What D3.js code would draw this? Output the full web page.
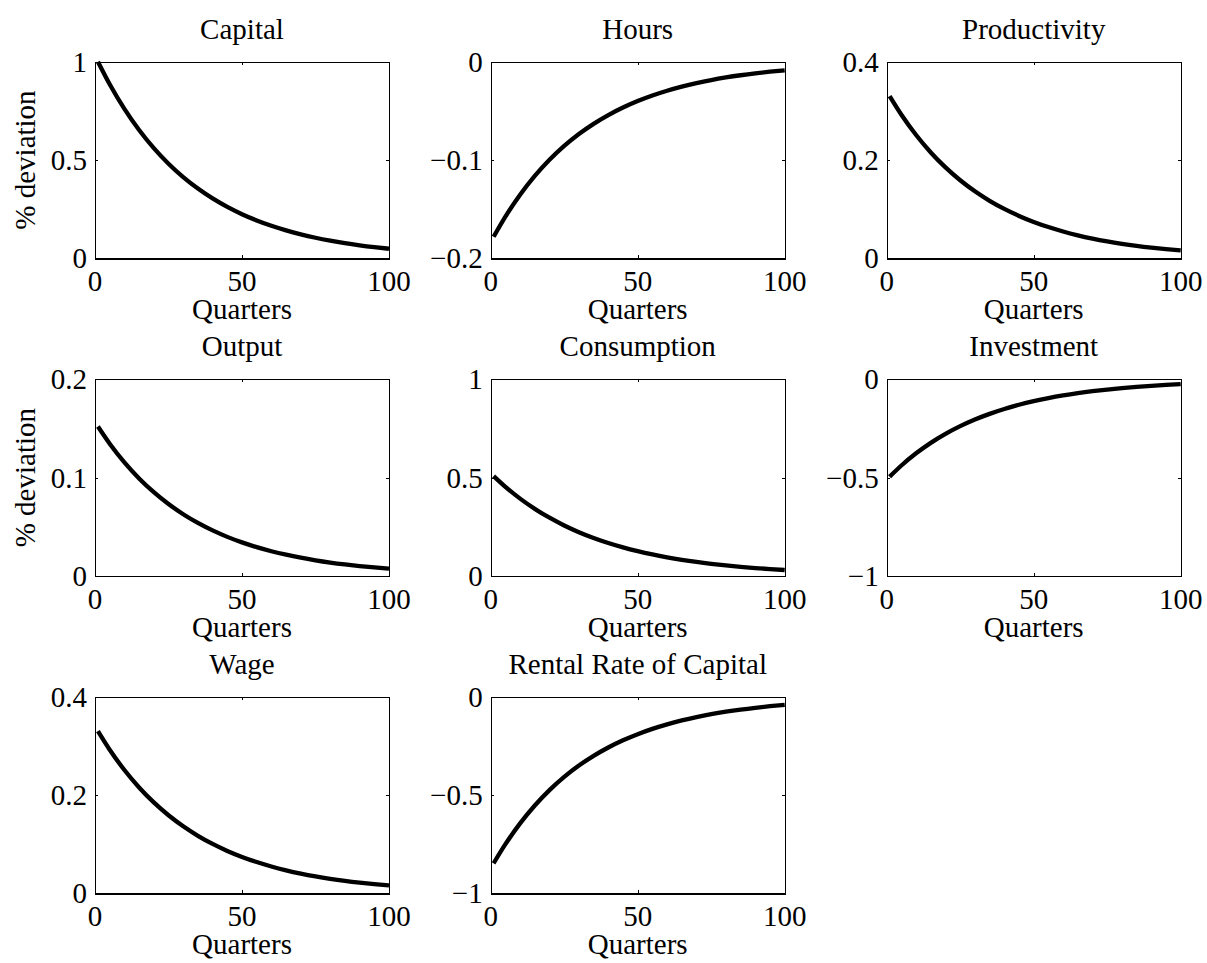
<!DOCTYPE html>
<html>
<head>
<meta charset="utf-8">
<script src="https://cdn.jsdelivr.net/npm/d3@7"></script>
<style>
  html, body { margin: 0; padding: 0; background: #fff; }
  svg { display: block; }
  text { font-family: "Liberation Serif", "Times New Roman", serif; fill: #000; }
</style>
</head>
<body>
<svg id="fig" width="1207" height="963"></svg>
<script>
// Impulse responses, sampled every five quarters
const quarters = [1, 5, 10, 15, 20, 25, 30, 35, 40, 45, 50, 55, 60, 65, 70, 75, 80, 85, 90, 95, 100];

const capital      = [1.0000, 0.8853, 0.7602, 0.6528, 0.5606, 0.4814, 0.4134, 0.3550, 0.3049, 0.2618, 0.2248, 0.1931, 0.1658, 0.1424, 0.1223, 0.1050, 0.0902, 0.0774, 0.0665, 0.0571, 0.0490];
const hours        = [-0.17800, -0.15758, -0.13532, -0.11620, -0.09979, -0.08569, -0.07359, -0.06319, -0.05427, -0.04660, -0.04002, -0.03436, -0.02951, -0.02534, -0.02176, -0.01869, -0.01605, -0.01378, -0.01183, -0.01016, -0.00873];
const productivity = [0.33000, 0.29215, 0.25087, 0.21543, 0.18500, 0.15887, 0.13642, 0.11715, 0.10060, 0.08639, 0.07419, 0.06371, 0.05471, 0.04698, 0.04034, 0.03464, 0.02975, 0.02555, 0.02194, 0.01884, 0.01618];
const output       = [0.15200, 0.13456, 0.11555, 0.09923, 0.08521, 0.07317, 0.06284, 0.05396, 0.04634, 0.03979, 0.03417, 0.02934, 0.02520, 0.02164, 0.01858, 0.01596, 0.01370, 0.01177, 0.01010, 0.00868, 0.00745];
const consumption  = [0.50800, 0.45345, 0.39342, 0.34134, 0.29616, 0.25695, 0.22294, 0.19343, 0.16782, 0.14561, 0.12633, 0.10961, 0.09510, 0.08251, 0.07159, 0.06211, 0.05389, 0.04676, 0.04057, 0.03520, 0.03054];
const investment   = [-0.49500, -0.43822, -0.37631, -0.32315, -0.27750, -0.23830, -0.20463, -0.17573, -0.15091, -0.12959, -0.11128, -0.09556, -0.08206, -0.07047, -0.06051, -0.05197, -0.04462, -0.03832, -0.03291, -0.02825, -0.02426];
const wage         = [0.33000, 0.29215, 0.25087, 0.21543, 0.18500, 0.15887, 0.13642, 0.11715, 0.10060, 0.08639, 0.07419, 0.06371, 0.05471, 0.04698, 0.04034, 0.03464, 0.02975, 0.02555, 0.02194, 0.01884, 0.01618];
const rentalRate   = [-0.84700, -0.74984, -0.64391, -0.55295, -0.47484, -0.40775, -0.35015, -0.30069, -0.25822, -0.22174, -0.19041, -0.16351, -0.14042, -0.12058, -0.10355, -0.08892, -0.07636, -0.06557, -0.05631, -0.04835, -0.04152];

const titles = ["Capital", "Hours", "Productivity", "Output", "Consumption", "Investment", "Wage", "Rental Rate of Capital"];
const seriesList = [capital, hours, productivity, output, consumption, investment, wage, rentalRate];

// y-axis ticks for each panel (first and last give the axis limits)
const yTicks = [
  [0, 0.5, 1],
  [-0.2, -0.1, 0],
  [0, 0.2, 0.4],
  [0, 0.1, 0.2],
  [0, 0.5, 1],
  [-1, -0.5, 0],
  [0, 0.2, 0.4],
  [-1, -0.5, 0]
];
const xTicks = [0, 50, 100];
const yLabelPanels = [0, 3];
const xLabelText = "Quarters";
const yLabelText = "% deviation";

// Grid geometry
const colLeft = [95, 490.7, 886.7];
const rowTop = [61.7, 379.3, 696.7];
const plotW = 294;
const plotH = 196.7;
const fontSize = 29;
const tickLen = 3;

const svg = d3.select("#fig");
const fmt = v => {
  const s = d3.format("~g")(Math.abs(v));
  return v < 0 ? "\u2212" + s : s;
};

seriesList.forEach((vals, i) => {
  const r = Math.floor(i / 3), c = i % 3;
  const x0 = colLeft[c], y0 = rowTop[r];
  const g = svg.append("g").attr("transform", `translate(${x0},${y0})`);

  const yt = yTicks[i];
  const x = d3.scaleLinear().domain([0, 100]).range([0, plotW]);
  const y = d3.scaleLinear().domain([yt[0], yt[yt.length - 1]]).range([plotH, 0]);

  // box with inward ticks on all four sides
  g.append("g").attr("transform", `translate(0,${plotH})`)
    .call(d3.axisBottom(x).tickValues(xTicks).tickSize(-tickLen).tickFormat(""));
  g.append("g")
    .call(d3.axisTop(x).tickValues(xTicks).tickSize(-tickLen).tickFormat(""));
  g.append("g")
    .call(d3.axisLeft(y).tickValues(yt).tickSize(-tickLen).tickFormat(""));
  g.append("g").attr("transform", `translate(${plotW},0)`)
    .call(d3.axisRight(y).tickValues(yt).tickSize(-tickLen).tickFormat(""));
  g.selectAll(".domain, .tick line")
    .attr("stroke", "#000").attr("stroke-width", 1.3).attr("shape-rendering", "crispEdges");

  // tick labels
  g.selectAll(".xlab").data(xTicks).enter().append("text")
    .attr("x", d => x(d)).attr("y", plotH + 33)
    .attr("text-anchor", "middle").attr("font-size", fontSize)
    .text(d => fmt(d));
  g.selectAll(".ylab").data(yt).enter().append("text")
    .attr("x", -8).attr("y", d => y(d))
    .attr("dy", "0.34em")
    .attr("text-anchor", "end").attr("font-size", fontSize)
    .text(d => fmt(d));

  // title and axis labels
  g.append("text")
    .attr("x", plotW / 2).attr("y", -23)
    .attr("text-anchor", "middle").attr("font-size", fontSize)
    .text(titles[i]);
  g.append("text")
    .attr("x", plotW / 2).attr("y", plotH + 61)
    .attr("text-anchor", "middle").attr("font-size", fontSize)
    .text(xLabelText);
  if (yLabelPanels.includes(i)) {
    g.append("text")
      .attr("transform", `translate(${35 - x0},${plotH / 2}) rotate(-90)`)
      .attr("text-anchor", "middle").attr("font-size", fontSize)
      .text(yLabelText);
  }

  // response path
  const line = d3.line()
    .x((d, k) => x(quarters[k]))
    .y(d => y(d))
    .curve(d3.curveMonotoneX);
  g.append("path")
    .datum(vals)
    .attr("d", line)
    .attr("fill", "none")
    .attr("stroke", "#000")
    .attr("stroke-width", 4.3)
    .attr("stroke-linejoin", "round")
    .attr("stroke-linecap", "butt");
});
</script>
</body>
</html>
